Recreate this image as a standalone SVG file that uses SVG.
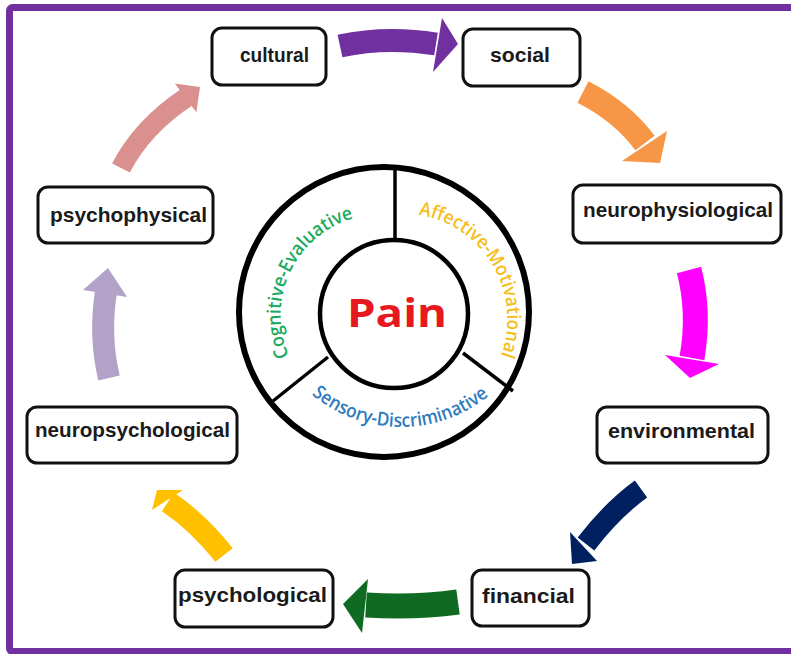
<svg xmlns="http://www.w3.org/2000/svg" width="791" height="654" viewBox="0 0 791 654">
  <style>
    .box rect { fill: #ffffff; stroke: #111111; stroke-width: 3; }
    .box text { font-family: "Liberation Sans", Arial, sans-serif; font-weight: bold; font-size: 20.5px; fill: #1a1a1a; text-anchor: middle; }
    .shaft { fill: none; stroke-linecap: butt; }
    .ring { fill: none; stroke: #000000; }
    .arc { font-family: "Open Sans", "Noto Sans", sans-serif; font-size: 19px; font-weight: 600; }
  </style>

  <!-- frame -->
  <rect x="9.5" y="7.5" width="800" height="644" rx="3" fill="#ffffff" stroke="#7030A0" stroke-width="7"/>

  <!-- central wheel -->
  <g id="wheel">
    <circle class="ring" cx="384" cy="312" r="145" stroke-width="6"/>
    <circle class="ring" cx="394" cy="314" r="74" stroke-width="4.5"/>
    <line x1="395" y1="168" x2="395" y2="240" stroke="#000" stroke-width="3.5"/>
    <line x1="328" y1="357" x2="273" y2="401" stroke="#000" stroke-width="3.5"/>
    <line x1="463" y1="353" x2="513" y2="391" stroke="#000" stroke-width="3.5"/>
    <defs>
      <path id="arcCog" d="M289.1,355.9 A101,101 0 0 1 360.1,216.6"/>
      <path id="arcAff" d="M418.6,214.6 A106,106 0 0 1 499.2,360.1"/>
      <path id="arcSen" d="M311.7,394.5 A139,139 0 0 0 492.2,392.9"/>
    </defs>
    <text class="arc" fill="#1BAA5C"><textPath href="#arcCog" textLength="172" lengthAdjust="spacingAndGlyphs">Cognitive-Evaluative</textPath></text>
    <text class="arc" fill="#F5BE1A"><textPath href="#arcAff" textLength="186" lengthAdjust="spacingAndGlyphs">Affective-Motivational</textPath></text>
    <text class="arc" fill="#2E7BBE"><textPath href="#arcSen" textLength="192" lengthAdjust="spacingAndGlyphs">Sensory-Discriminative</textPath></text>
    <text x="397" y="327" font-family="'Open Sans', 'Noto Sans', sans-serif" font-weight="bold" font-size="40" fill="#E5191E" text-anchor="middle" textLength="100" lengthAdjust="spacingAndGlyphs">Pain</text>
  </g>

  <!-- factor boxes -->
  <g id="cultural" class="box"><rect x="212" y="28" width="114" height="57" rx="10"/><text x="274.5" y="62" textLength="69" lengthAdjust="spacingAndGlyphs">cultural</text></g>
  <g id="social" class="box"><rect x="463" y="29" width="117" height="57" rx="10"/><text x="520" y="62" textLength="60" lengthAdjust="spacingAndGlyphs">social</text></g>
  <g id="neurophysiological" class="box"><rect x="573" y="185" width="208" height="58" rx="10"/><text x="678" y="217" textLength="190" lengthAdjust="spacingAndGlyphs">neurophysiological</text></g>
  <g id="environmental" class="box"><rect x="597" y="407" width="171" height="56" rx="10"/><text x="681.5" y="438" textLength="147" lengthAdjust="spacingAndGlyphs">environmental</text></g>
  <g id="financial" class="box"><rect x="472" y="570" width="117" height="56" rx="10"/><text x="528.5" y="603" textLength="93" lengthAdjust="spacingAndGlyphs">financial</text></g>
  <g id="psychological" class="box"><rect x="175" y="570" width="158" height="57" rx="10"/><text x="252.5" y="602" textLength="149" lengthAdjust="spacingAndGlyphs">psychological</text></g>
  <g id="neuropsychological" class="box"><rect x="27" y="407" width="210" height="56" rx="10"/><text x="132.5" y="437" textLength="195" lengthAdjust="spacingAndGlyphs">neuropsychological</text></g>
  <g id="psychophysical" class="box"><rect x="38" y="187" width="175" height="56" rx="10"/><text x="128.5" y="222" textLength="157" lengthAdjust="spacingAndGlyphs">psychophysical</text></g>

  <!-- block arrows between factors -->
  <g id="connectors">
    <path class="shaft" d="M340,46 Q386,36 436,44" stroke="#7030A0" stroke-width="23"/>
    <polygon points="442,18 458,44 433,72" fill="#7030A0"/>

    <path class="shaft" d="M583,92 Q622,112 645,143" stroke="#F79646" stroke-width="24"/>
    <polygon points="667,131 660,163 622,161" fill="#F79646"/>

    <path class="shaft" d="M689,270 Q700,312 692,358" stroke="#FF00FF" stroke-width="25"/>
    <polygon points="665,355 690,378 719,364" fill="#FF00FF"/>

    <path class="shaft" d="M641,489 Q612,510 586,544" stroke="#002060" stroke-width="21"/>
    <polygon points="570,532 572,564 597,561" fill="#002060"/>

    <path class="shaft" d="M458,602 Q415,608 366,605" stroke="#0F6B22" stroke-width="25"/>
    <polygon points="368,579 343,604 362,633" fill="#0F6B22"/>

    <path class="shaft" d="M224,555 Q198,522 168,502" stroke="#FFC000" stroke-width="22"/>
    <polygon points="183,490 157,490 152,510" fill="#FFC000"/>

    <path class="shaft" d="M109,378 Q99,336 106,292" stroke="#B3A2C7" stroke-width="22"/>
    <polygon points="83,290 108,268 127,297" fill="#B3A2C7"/>

    <path class="shaft" d="M121,168 Q142,127 187,97" stroke="#D9908F" stroke-width="20"/>
    <polygon points="174.8,83.4 200,87 196.4,112.2" fill="#D9908F"/>
  </g>
</svg>
